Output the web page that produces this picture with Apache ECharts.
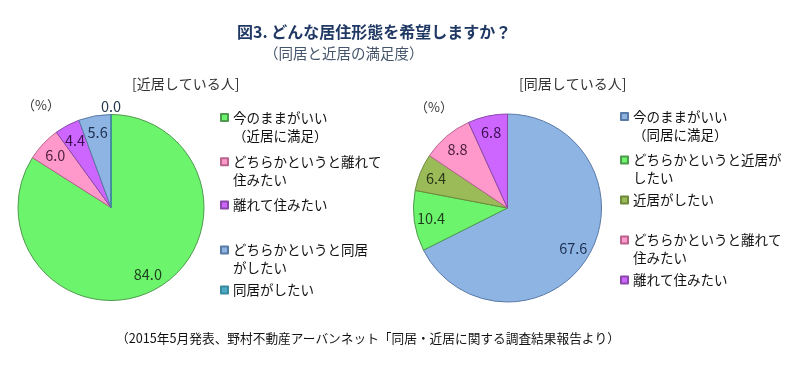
<!DOCTYPE html>
<html><head><meta charset="utf-8">
<script src="https://cdn.jsdelivr.net/npm/echarts@6/dist/echarts.min.js"></script>
<style>html,body{margin:0;padding:0;background:#fff}#c{width:800px;height:368px}</style>
</head><body><div id="c"></div>
<script>
// ---- data ----
const leftNames = ['今のままがいい\n（近居に満足）', 'どちらかというと離れて\n住みたい', '離れて住みたい', 'どちらかというと同居\nがしたい', '同居がしたい'];
const leftValues = [84.0, 6.0, 4.4, 5.6, 0.0];
const rightNames = ['今のままがいい\n（同居に満足）', 'どちらかというと近居が\nしたい', '近居がしたい', 'どちらかというと離れて\n住みたい', '離れて住みたい'];
const rightValues = [67.6, 10.4, 6.4, 8.8, 6.8];
const titleText = '図3. どんな居住形態を希望しますか？';
const subtitleText = '（同居と近居の満足度）';
const leftTitle = '[近居している人]';
const rightTitle = '[同居している人]';
const unitText = '（%）';
const sourceText = '（2015年5月発表、野村不動産アーバンネット「同居・近居に関する調査結果報告より）';

// ---- styles / layout ----
const FONT = '"Noto Sans CJK JP", "Noto Sans", sans-serif';
const FILL = {green:'#6DF46D', pink:'#FF99CC', purple:'#CC66FF', blue:'#8EB4E3', teal:'#4BACC6', olive:'#9BBB59'};
const EDGE = {green:'#4E9A4E', pink:'#B8648C', purple:'#8A48A8', blue:'#5A7AA6', teal:'#3A8AA0', olive:'#6C8A3A'};
const LBL  = {green:'#1D3F1D', pink:'#4A1C3A', purple:'#3A1050', blue:'#1F3050', teal:'#24384F', olive:'#2C3618'};
const leftKeys = ['green', 'pink', 'purple', 'blue', 'teal'];
const rightKeys = ['blue', 'green', 'olive', 'pink', 'purple'];
const leftPie = {center:[111, 207.5], r:93};
const rightPie = {center:[507.5, 208], r:94};
const leftLegendX = 220, rightLegendX = 620;
const leftLegendY = [117.5, 161.7, 205, 250, 290];
const rightLegendY = [116.5, 160, 200, 240, 280];

function pieSeries(names, values, keys, pie) {
  const main = {
    type:'pie', center:pie.center, radius:[0, pie.r], startAngle:90, clockwise:true,
    avoidLabelOverlap:false, animation:false, emphasis:{disabled:true},
    label:{show:false}, labelLine:{show:false},
    data: names.map((n, i) => ({name:n, value:values[i],
      itemStyle:{color:FILL[keys[i]], borderColor:EDGE[keys[i]], borderWidth:1}}))
  };
  const labels = {
    type:'pie', center:pie.center, radius:[pie.r * 0.58, pie.r], startAngle:90, clockwise:true,
    avoidLabelOverlap:false, animation:false, silent:true, legendHoverLink:false, z:3,
    emphasis:{disabled:true},
    itemStyle:{color:'rgba(0,0,0,0)', borderWidth:0},
    label:{show:true, position:'inside', fontSize:14.5, fontFamily:FONT,
      formatter: p => p.value.toFixed(1)},
    labelLayout: p => (values[p.dataIndex] === 0 ? {align:'center'} : {}),
    data: names.map((n, i) => {
      const d = {name:n, value:values[i], label:{color:LBL[keys[i]]}};
      if (values[i] === 0) {
        d.label.position = 'outside';
        d.label.distanceToLabelLine = 0;
        d.labelLine = {show:false, length:8, length2:0};
      }
      return d;
    })
  };
  return [main, labels];
}

function legends(names, x, ys) {
  return names.map((n, i) => {
    const multi = n.indexOf('\n') >= 0;
    return {
      orient:'vertical', left:x, top: ys[i] - (multi ? 27 : 9), padding:0,
      itemWidth:7, itemHeight:7, icon:'rect', selectedMode:false,
      data:[n],
      formatter: s => (s.indexOf('\n') >= 0 ? '\n' + s : s),
      textStyle:{fontSize:13.5, lineHeight:18, color:'#111111', fontFamily:FONT}
    };
  });
}

const chart = echarts.init(document.getElementById('c'), null, {renderer:'canvas'});
chart.setOption({
  backgroundColor:'#ffffff',
  animation:false,
  title:[
    {text:titleText, left:237, top:21.5, padding:0,
      textStyle:{fontSize:16, fontWeight:'bold', color:'#1F3864', fontFamily:FONT, lineHeight:20}},
    {text:subtitleText, left:264, top:44.3, padding:0,
      textStyle:{fontSize:14.5, fontWeight:'normal', color:'#44546A', fontFamily:FONT, lineHeight:18}},
    {text:leftTitle, left:132, top:74.3, padding:0,
      textStyle:{fontSize:14, fontWeight:'normal', color:'#333333', fontFamily:FONT, lineHeight:18}},
    {text:rightTitle, left:519, top:74.3, padding:0,
      textStyle:{fontSize:14, fontWeight:'normal', color:'#333333', fontFamily:FONT, lineHeight:18}},
    {text:unitText, left:22, top:96, padding:0,
      textStyle:{fontSize:13, fontWeight:'normal', color:'#333333', fontFamily:FONT, lineHeight:18}},
    {text:unitText, left:415, top:97.7, padding:0,
      textStyle:{fontSize:13, fontWeight:'normal', color:'#333333', fontFamily:FONT, lineHeight:18}},
    {text:sourceText, left:116, top:330.3, padding:0,
      textStyle:{fontSize:12.7, fontWeight:'normal', color:'#111111', fontFamily:FONT, lineHeight:16}}
  ],
  legend: legends(leftNames, leftLegendX, leftLegendY).concat(legends(rightNames, rightLegendX, rightLegendY)),
  series: pieSeries(leftNames, leftValues, leftKeys, leftPie).concat(pieSeries(rightNames, rightValues, rightKeys, rightPie))
});
</script>
</body></html>
